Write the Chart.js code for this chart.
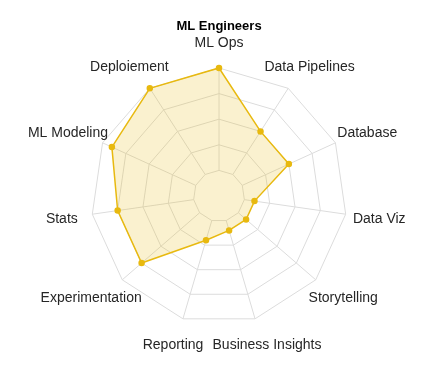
<!DOCTYPE html>
<html>
<head>
<meta charset="utf-8">
<script src="https://cdn.jsdelivr.net/npm/chart.js@4/dist/chart.umd.min.js"></script>
<style>
  html, body { margin: 0; padding: 0; background: #fff; }
  #wrap { width: 435px; height: 390px; }
</style>
</head>
<body>
<div id="wrap"><canvas id="radar"></canvas></div>
<script>
// skills (clockwise from top)
const skills = ['ML Ops', 'Data Pipelines', 'Database', 'Data Viz', 'Storytelling',
  'Business Insights', 'Reporting', 'Experimentation', 'Stats', 'ML Modeling', 'Deploiement'];
const mlEngineers = [5, 3, 3, 1.4, 1.4, 1.4, 1.8, 4, 4, 4.6, 5];
const scaleMax = 5;

// spokes only from the first ring outwards, labels centred near the spokes
const radarExtras = {
  id: 'radarExtras',
  beforeDatasetsDraw(chart) {
    const r = chart.scales.r;
    const ctx = chart.ctx;
    ctx.save();
    ctx.strokeStyle = '#dcdcdc';
    ctx.lineWidth = 1;
    for (let i = 0; i < skills.length; i++) {
      const a = r.getPointPositionForValue(i, 1);
      const b = r.getPointPositionForValue(i, scaleMax);
      ctx.beginPath();
      ctx.moveTo(a.x, a.y);
      ctx.lineTo(b.x, b.y);
      ctx.stroke();
    }
    ctx.restore();
  },
  afterDraw(chart) {
    const r = chart.scales.r;
    const ctx = chart.ctx;
    ctx.save();
    ctx.font = '14px "Liberation Sans"';
    ctx.fillStyle = '#262626';
    ctx.textAlign = 'center';
    ctx.textBaseline = 'middle';
    skills.forEach((s, i) => {
      const p = r.getPointPosition(i, r.drawingArea + 26);
      const dx = (p.x - r.xCenter) / (r.drawingArea + 26);
      const w = ctx.measureText(s).width;
      ctx.fillText(s, p.x + dx * w * 0.15, p.y + 1);
    });
    ctx.restore();
  }
};

new Chart(document.getElementById('radar'), {
  type: 'radar',
  data: {
    labels: skills,
    datasets: [{
      label: 'ML Engineers',
      data: mlEngineers,
      borderColor: '#e8b90f',
      backgroundColor: 'rgba(232,185,15,0.2)',
      borderWidth: 1.5,
      pointRadius: 2.5,
      pointBackgroundColor: '#e8b90f',
      pointBorderColor: '#e8b90f',
      fill: true
    }]
  },
  options: {
    responsive: true,
    maintainAspectRatio: false,
    animation: false,
    layout: { padding: { top: 0, bottom: 65, left: 91, right: 88 } },
    plugins: {
      legend: { display: false },
      tooltip: { enabled: false },
      title: {
        display: true,
        text: 'ML Engineers',
        color: '#000',
        font: { family: 'Liberation Sans', size: 13, weight: 'bold' },
        padding: { top: 19, bottom: 34 }
      }
    },
    scales: {
      r: {
        min: 0,
        max: scaleMax,
        ticks: { stepSize: 1, display: false },
        grid: { color: '#dcdcdc', lineWidth: 1 },
        angleLines: { display: false },
        pointLabels: { display: false }
      }
    }
  },
  plugins: [radarExtras]
});
</script>
</body>
</html>
